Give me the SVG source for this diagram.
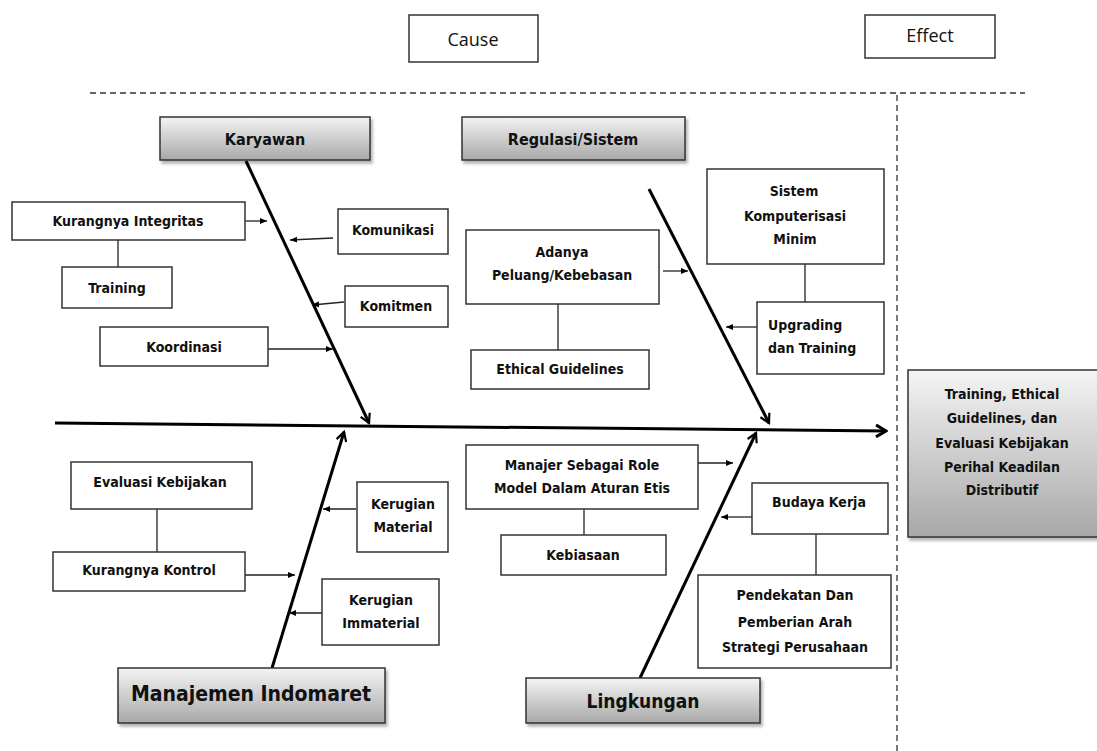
<svg xmlns="http://www.w3.org/2000/svg" width="1097" height="751" viewBox="0 0 1097 751">
<defs>
<linearGradient id="g" x1="0" y1="0" x2="0" y2="1">
<stop offset="0" stop-color="#f4f4f4"/>
<stop offset="1" stop-color="#a8a8a8"/>
</linearGradient>
<filter id="sh" x="-10%" y="-20%" width="130%" height="150%">
<feDropShadow dx="2" dy="3" stdDeviation="1.5" flood-color="#000" flood-opacity="0.3"/>
</filter>
<marker id="big" viewBox="0 0 12 12" refX="10" refY="6" markerWidth="12" markerHeight="12" markerUnits="userSpaceOnUse" orient="auto">
<path d="M1,1 L10,6 L1,11" fill="none" stroke="#000" stroke-width="2.2"/>
</marker>
<marker id="spine" viewBox="0 0 14 14" refX="12" refY="7" markerWidth="14" markerHeight="14" markerUnits="userSpaceOnUse" orient="auto">
<path d="M2,1 L12,7 L2,13" fill="none" stroke="#000" stroke-width="3"/>
</marker>
<marker id="sm" viewBox="0 0 8 8" refX="7" refY="4" markerWidth="8" markerHeight="8" markerUnits="userSpaceOnUse" orient="auto">
<path d="M0,1 L7,4 L0,7 Z" fill="#000"/>
</marker>
</defs>
<style>
.b{fill:#fff;stroke:#333;stroke-width:1.5}
.gb{fill:url(#g);stroke:#333;stroke-width:1.5;filter:url(#sh)}
.t{font-family:"DejaVu Sans Condensed","DejaVu Sans",sans-serif;font-weight:bold;font-size:14px;fill:#111;text-anchor:middle}
.l{text-anchor:start}
.h{font-family:"DejaVu Sans Condensed","DejaVu Sans",sans-serif;font-weight:bold;font-size:16px;fill:#111;text-anchor:middle}
.hh{font-size:19px}
.n{font-family:"Open Sans","DejaVu Sans",sans-serif;font-size:18px;fill:#111;text-anchor:middle}
.dash{stroke:#333;stroke-width:1.3;stroke-dasharray:6,4;fill:none}
.bone{stroke:#000;stroke-width:3;fill:none}
.ln{stroke:#222;stroke-width:1.3;fill:none}
</style>

<g id="frame">
<line class="dash" x1="90" y1="93" x2="1025" y2="93"/>
<line class="dash" x1="897" y1="95" x2="897" y2="751"/>
</g>

<g id="cause">
<rect class="b" x="409" y="15" width="129" height="47"/>
<text class="n" x="473" y="46">Cause</text>
</g>
<g id="effect">
<rect class="b" x="865" y="15" width="130" height="43"/>
<text class="n" x="930" y="42">Effect</text>
</g>

<g id="connectors">
<line class="bone" x1="55" y1="423" x2="886" y2="431" stroke-width="4" marker-end="url(#spine)"/>
<line class="bone" x1="246" y1="161" x2="369" y2="423" marker-end="url(#big)"/>
<line class="bone" x1="649" y1="189" x2="769" y2="423" marker-end="url(#big)"/>
<line class="bone" x1="272" y1="668" x2="344" y2="432" marker-end="url(#big)"/>
<line class="bone" x1="640" y1="678" x2="756" y2="433" marker-end="url(#big)"/>
<line class="ln" x1="245" y1="221" x2="267" y2="221" marker-end="url(#sm)"/>
<line class="ln" x1="333" y1="238" x2="290" y2="240" marker-end="url(#sm)"/>
<line class="ln" x1="344" y1="302" x2="312" y2="305" marker-end="url(#sm)"/>
<line class="ln" x1="268" y1="349" x2="333" y2="349" marker-end="url(#sm)"/>
<line class="ln" x1="118" y1="240" x2="118" y2="267"/>
<line class="ln" x1="663" y1="271" x2="688" y2="271" marker-end="url(#sm)"/>
<line class="ln" x1="757" y1="327" x2="726" y2="327" marker-end="url(#sm)"/>
<line class="ln" x1="558" y1="304" x2="558" y2="350"/>
<line class="ln" x1="805" y1="264" x2="805" y2="302"/>
<line class="ln" x1="245" y1="575" x2="295" y2="575" marker-end="url(#sm)"/>
<line class="ln" x1="356" y1="509" x2="323" y2="509" marker-end="url(#sm)"/>
<line class="ln" x1="322" y1="613" x2="289" y2="613" marker-end="url(#sm)"/>
<line class="ln" x1="157" y1="509" x2="157" y2="552"/>
<line class="ln" x1="698" y1="463" x2="733" y2="463" marker-end="url(#sm)"/>
<line class="ln" x1="752" y1="517" x2="721" y2="517" marker-end="url(#sm)"/>
<line class="ln" x1="584" y1="509" x2="584" y2="535"/>
<line class="ln" x1="816" y1="534" x2="816" y2="575"/>
</g>

<g id="karyawan">
<rect class="gb" x="160" y="117" width="210" height="43"/>
<text class="h" x="265" y="145">Karyawan</text>
</g>
<g id="regulasi">
<rect class="gb" x="462" y="117" width="223" height="43"/>
<text class="h" x="573" y="145">Regulasi/Sistem</text>
</g>
<g id="manajemen">
<rect class="gb" x="118" y="668" width="267" height="55"/>
<text class="h" x="251" y="701" style="font-size:21px">Manajemen Indomaret</text>
</g>
<g id="lingkungan">
<rect class="gb" x="526" y="678" width="234" height="45"/>
<text class="h hh" x="643" y="708">Lingkungan</text>
</g>
<g id="hasil">
<rect class="gb" x="908" y="370" width="195" height="167"/>
<text class="t" x="1002" y="399">Training, Ethical</text>
<text class="t" x="1002" y="423">Guidelines, dan</text>
<text class="t" x="1002" y="448">Evaluasi Kebijakan</text>
<text class="t" x="1002" y="472">Perihal Keadilan</text>
<text class="t" x="1002" y="495">Distributif</text>
</g>

<g id="kurangnya-integritas">
<rect class="b" x="12" y="202" width="233" height="38"/>
<text class="t" x="128" y="226">Kurangnya Integritas</text>
</g>
<g id="training">
<rect class="b" x="62" y="267" width="110" height="41"/>
<text class="t" x="117" y="293">Training</text>
</g>
<g id="koordinasi">
<rect class="b" x="100" y="327" width="168" height="39"/>
<text class="t" x="184" y="352">Koordinasi</text>
</g>
<g id="komunikasi">
<rect class="b" x="338" y="209" width="110" height="45"/>
<text class="t" x="393" y="235">Komunikasi</text>
</g>
<g id="komitmen">
<rect class="b" x="345" y="286" width="103" height="41"/>
<text class="t" x="396" y="311">Komitmen</text>
</g>

<g id="adanya-peluang">
<rect class="b" x="466" y="230" width="193" height="74"/>
<text class="t" x="562" y="257">Adanya</text>
<text class="t" x="562" y="280">Peluang/Kebebasan</text>
</g>
<g id="ethical-guidelines">
<rect class="b" x="471" y="350" width="178" height="39"/>
<text class="t" x="560" y="374">Ethical Guidelines</text>
</g>
<g id="sistem-komputerisasi">
<rect class="b" x="707" y="169" width="177" height="95"/>
<text class="t" x="794" y="196">Sistem</text>
<text class="t" x="795" y="221">Komputerisasi</text>
<text class="t" x="795" y="244">Minim</text>
</g>
<g id="upgrading">
<rect class="b" x="757" y="302" width="127" height="72"/>
<text class="t l" x="768" y="330">Upgrading</text>
<text class="t l" x="768" y="353">dan Training</text>
</g>

<g id="evaluasi-kebijakan">
<rect class="b" x="71" y="462" width="181" height="47"/>
<text class="t" x="160" y="487">Evaluasi Kebijakan</text>
</g>
<g id="kurangnya-kontrol">
<rect class="b" x="53" y="552" width="192" height="39"/>
<text class="t" x="149" y="575">Kurangnya Kontrol</text>
</g>
<g id="kerugian-material">
<rect class="b" x="357" y="482" width="91" height="70"/>
<text class="t" x="403" y="509">Kerugian</text>
<text class="t" x="403" y="532">Material</text>
</g>
<g id="kerugian-immaterial">
<rect class="b" x="322" y="579" width="117" height="66"/>
<text class="t" x="381" y="605">Kerugian</text>
<text class="t" x="381" y="628">Immaterial</text>
</g>

<g id="manajer-role-model">
<rect class="b" x="466" y="445" width="232" height="64"/>
<text class="t" x="582" y="470">Manajer Sebagai Role</text>
<text class="t" x="582" y="493">Model Dalam Aturan Etis</text>
</g>
<g id="kebiasaan">
<rect class="b" x="501" y="535" width="165" height="40"/>
<text class="t" x="583" y="560">Kebiasaan</text>
</g>
<g id="budaya-kerja">
<rect class="b" x="752" y="483" width="136" height="51"/>
<text class="t" x="819" y="507">Budaya Kerja</text>
</g>
<g id="pendekatan">
<rect class="b" x="698" y="575" width="193" height="93"/>
<text class="t" x="795" y="600">Pendekatan Dan</text>
<text class="t" x="795" y="627">Pemberian Arah</text>
<text class="t" x="795" y="652">Strategi Perusahaan</text>
</g>
</svg>
